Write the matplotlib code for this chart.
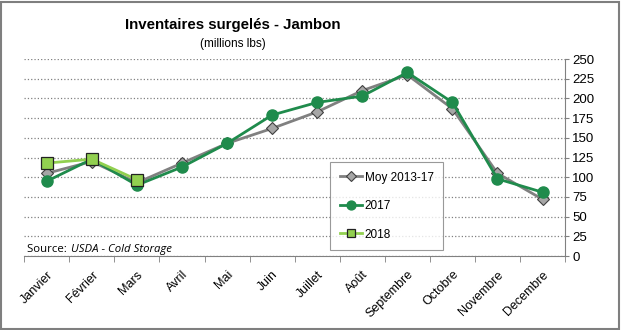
import numpy as np
import matplotlib.pyplot as plt
from matplotlib.patches import Rectangle

mois = ["Janvier", "Février", "Mars", "Avril", "Mai", "Juin", "Juillet",
        "Août", "Septembre", "Octobre", "Novembre", "Decembre"]
moy_2013_17 = [105, 120, 93, 118, 143, 162, 183, 210, 230, 187, 105, 72]
annee_2017 = [95, 123, 90, 113, 143, 179, 195, 203, 233, 195, 98, 81]
annee_2018 = [118, 123, 97]
y_ticks = list(range(0, 251, 25))

plt.rcParams['font.family'] = ['Liberation Sans', 'DejaVu Sans']

fig = plt.figure(figsize=(6.21, 3.30), dpi=100)
fig.patches.append(Rectangle((0.002, 0.003), 0.995, 0.992, transform=fig.transFigure,
                             fill=False, edgecolor='#7f7f7f', linewidth=1.5))
ax = fig.add_axes([0.039, 0.224, 0.871, 0.597])

x = np.arange(len(mois))
ax.plot(x, moy_2013_17, color='#808080', linewidth=2, marker='D', markersize=6,
        markerfacecolor='#a6a6a6', markeredgecolor='#404040', markeredgewidth=0.8,
        label='Moy 2013-17', zorder=3)
ax.plot(x, annee_2017, color='#1f8b4c', linewidth=2, marker='o', markersize=8,
        markerfacecolor='#1f8b4c', markeredgecolor='#1f8b4c',
        label='2017', zorder=4)
ax.plot(x[:len(annee_2018)], annee_2018, color='#92d050', linewidth=2, marker='s',
        markersize=8, markerfacecolor='#92d050', markeredgecolor='#222222',
        markeredgewidth=0.9, label='2018', zorder=5)

ax.set_xlim(-0.5, len(mois) - 0.5)
ax.set_ylim(0, 250)
ax.set_yticks(y_ticks)
ax.yaxis.tick_right()
ax.tick_params(axis='y', length=3, labelsize=9.5, pad=2, color='#808080')
ax.set_xticks(x)
ax.set_xticklabels(mois, rotation=45, ha='right', rotation_mode='anchor', fontsize=9)
ax.set_xticks(np.arange(-0.5, len(mois), 1), minor=True)
ax.tick_params(axis='x', which='major', length=0, pad=9)
ax.tick_params(axis='x', which='minor', length=4, color='#808080')
ax.grid(axis='y', linestyle=':', color='#808080', linewidth=0.9)
for s in ['top', 'left']:
    ax.spines[s].set_visible(False)
ax.spines['right'].set_color('#808080')
ax.spines['bottom'].set_color('#808080')

handles, labels = ax.get_legend_handles_labels()
leg = ax.legend(handles, labels, loc='upper left', bbox_to_anchor=(0.566, 0.477),
                borderaxespad=0, fontsize=8.5, frameon=True, fancybox=False,
                edgecolor='#808080', handlelength=1.9, labelspacing=1.4,
                borderpad=0.8, handletextpad=0.2, markerscale=0.8)
leg.get_frame().set_linewidth(0.8)

fig.text(0.375, 0.925, "Inventaires surgelés - Jambon", ha='center', va='center',
         fontsize=10.8, fontweight='bold')
fig.text(0.375, 0.868, "(millions lbs)", ha='center', va='center', fontsize=8.5)
fig.text(0.043, 0.245, "Source: ", ha='left', va='center', fontsize=8.2,
         family=['Open Sans', 'DejaVu Sans'])
fig.text(0.114, 0.245, "USDA - Cold Storage", ha='left', va='center', fontsize=8.2,
         style='italic', family=['Open Sans', 'DejaVu Sans'])

fig.savefig("out.png", dpi=100)
